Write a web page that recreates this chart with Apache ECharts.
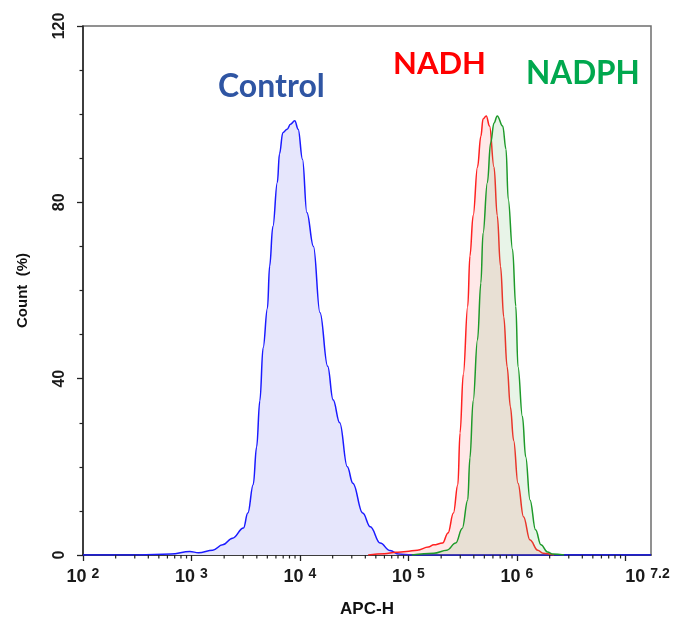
<!DOCTYPE html>
<html>
<head>
<meta charset="utf-8">
<script src="https://cdn.jsdelivr.net/npm/echarts@6/dist/echarts.min.js"></script>
<style>html,body{margin:0;padding:0;background:#fff}#c{width:677px;height:620px}</style>
</head>
<body>
<div id="c"></div>
<script>
// x values are log10(APC-H)
const controlX = [2.0,2.51,2.81,2.985,3.065,3.196,3.287,3.378,3.479,3.519,3.569,3.6,3.63,3.66,3.70,3.72,3.75,3.791,3.811,3.842,3.882,3.912,3.952,3.983,4.023,4.063,4.124,4.184,4.255,4.305,4.366,4.436,4.487,4.578,4.648,4.739,4.83,4.91,5.03,7.235];
const controlY = [0,0,0.2,0.8,0.5,1.1,2.3,3.8,6.1,9.5,16,24.5,35,47,56,65.5,74.5,84.5,91,95.8,96.6,97.7,98.5,96.6,89.8,77.7,70,55,42.8,35.2,30,20,16.3,9.5,6.4,2.7,1.0,0.2,0,0];
const nadhX = [4.628,4.779,4.88,4.981,5.082,5.183,5.233,5.314,5.364,5.414,5.455,5.475,5.505,5.546,5.566,5.596,5.636,5.667,5.687,5.717,5.747,5.788,5.818,5.848,5.878,5.909,5.939,5.969,6.009,6.06,6.12,6.191,6.241,6.342];
const nadhY = [0,0.3,0.6,0.8,1.1,1.8,2.3,2.7,5,9.5,16,27.7,41,56.4,67.8,77,88,95,98.9,99.6,97.3,88,77,65.5,54,42.7,33.6,26,16.3,8.7,3.4,1.1,0.4,0];
const nadphX = [5.031,5.233,5.354,5.435,5.495,5.546,5.566,5.596,5.636,5.667,5.687,5.727,5.757,5.788,5.818,5.868,5.899,5.919,5.959,5.989,6.009,6.05,6.08,6.12,6.171,6.221,6.281,6.332,6.434];
const nadphY = [0,0.4,1.1,2.7,6,12.5,22,35,48.8,61.7,73,84.5,93.5,98,99.6,97.3,92,80.7,69.3,56.4,42.7,31.4,22.3,12.5,5.7,2.3,0.7,0.2,0];
const xMajor = [2,3,4,5,6,7];
const xLabels = ['2','3','4','5','6','7.2'];
const xMin = 2, xMax = 7.235;
const minorMult = [2,3,4,5,6,7,8,9];
const xMinor = [];
for (let d = 2; d < 7; d++) minorMult.forEach(m => xMinor.push(d + Math.log10(m)));
const yMin = 0, yMax = 120, yStep = 40;

const pair = (xs, ys) => xs.map((x, i) => [x, ys[i]]);
const F = 'Liberation Sans, Arial, sans-serif';
const TF = 'Lato, Open Sans, sans-serif';

const chart = echarts.init(document.getElementById('c'), null, {renderer: 'canvas'});
chart.setOption({
  animation: false,
  grid: {left: 83, right: 26, top: 26, bottom: 65, outerBoundsMode: 'none', containLabel: false,
         show: true, borderColor: '#6e6e6e', borderWidth: 1.5},
  xAxis: {
    type: 'value', min: xMin, max: xMax,
    axisLine: {show: true, onZero: false, lineStyle: {color: '#222', width: 1.5}},
    axisTick: {show: true, length: 6, customValues: xMajor, lineStyle: {color: '#222', width: 1.3}},
    axisLabel: {
      customValues: xMajor, margin: 12,
      formatter: v => {
        const i = xMajor.findIndex(t => Math.abs(t - v) < 1e-6);
        const e = i >= 0 ? xLabels[i] : String(v);
        return (i === xMajor.length - 1 ? '{g|}' : '') + '{b|10 }{s|' + e + '}';
      },
      rich: {
        b: {fontFamily: F, fontWeight: 'bold', fontSize: 18, color: '#1a1a1a'},
        s: {fontFamily: F, fontWeight: 'bold', fontSize: 14, color: '#1a1a1a', padding: [0, 0, 7, 0]},
        g: {width: 44}
      }
    },
    name: 'APC-H', nameLocation: 'middle', nameGap: 46,
    nameTextStyle: {fontFamily: F, fontWeight: 'bold', fontSize: 17, color: '#111'},
    splitLine: {show: false}
  },
  yAxis: {
    type: 'value', min: yMin, max: yMax, interval: yStep,
    axisLine: {show: true, lineStyle: {color: '#222', width: 1.5}},
    axisTick: {show: true, length: 6, lineStyle: {color: '#222', width: 1.3}},
    minorTick: {show: true, splitNumber: 4, length: 3.5, lineStyle: {color: '#222', width: 1.2}},
    axisLabel: {rotate: 90, margin: 15, fontFamily: F, fontWeight: 'bold', fontSize: 16, color: '#1a1a1a'},
    splitLine: {show: false},
    name: 'Count  (%)', nameLocation: 'middle', nameGap: 53, nameRotate: 90,
    nameTextStyle: {fontFamily: F, fontWeight: 'bold', fontSize: 15, color: '#111'}
  },
  series: [
    {name: 'NADH', type: 'line', data: pair(nadhX, nadhY), showSymbol: false, smooth: 0.4, smoothMonotone: 'x',
     lineStyle: {color: '#ff2020', width: 1.5}, areaStyle: {color: 'rgb(255,100,100)', opacity: 0.15}, z: 2},
    {name: 'NADPH', type: 'line', data: pair(nadphX, nadphY), showSymbol: false, smooth: 0.4, smoothMonotone: 'x',
     lineStyle: {color: '#1e9a2a', width: 1.5}, areaStyle: {color: 'rgb(100,180,100)', opacity: 0.15}, z: 3},
    {name: 'Control', type: 'line', data: pair(controlX, controlY), showSymbol: false, smooth: 0.4, smoothMonotone: 'x',
     lineStyle: {color: '#1a1aff', width: 1.5}, areaStyle: {color: 'rgb(230,230,252)', opacity: 1}, z: 1},
    {name: 'minorTicks', type: 'custom', silent: true, clip: false, z: 10,
     data: xMinor.map(v => [v, 0]),
     renderItem: (params, api) => {
       const p = api.coord([api.value(0), api.value(1)]);
       return {type: 'line', shape: {x1: p[0], y1: p[1], x2: p[0], y2: p[1] + 3.5},
               style: {stroke: '#222', lineWidth: 1.2}};
     }}
  ],
  graphic: [
    {type: 'text', left: 218, top: 71, style: {text: 'Control', fontFamily: TF, fontWeight: 'bold', fontSize: 32, fill: '#2f55a3'}},
    {type: 'text', left: 393, top: 48, style: {text: 'NADH', fontFamily: TF, fontWeight: 'bold', fontSize: 31, fill: '#ff0000'}},
    {type: 'text', left: 526, top: 58, style: {text: 'NADPH', fontFamily: TF, fontWeight: 'bold', fontSize: 31.5, fill: '#00a84e'}}
  ]
});
</script>
</body>
</html>
